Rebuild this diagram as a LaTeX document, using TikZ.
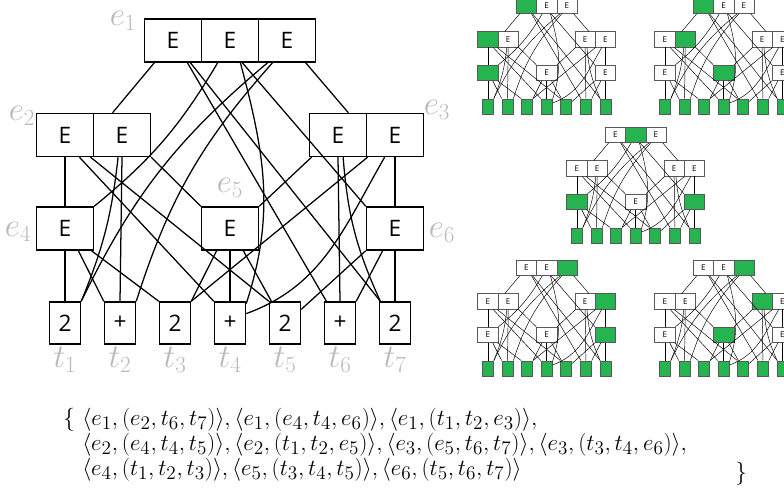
\documentclass[tikz,border=0pt]{standalone}
\usepackage{amsmath,amssymb}
\usepackage{fontspec}
\setsansfont{Open Sans}
\usepackage{tikz}

\definecolor{hlgreen}{RGB}{38,180,80}
\definecolor{lblgray}{RGB}{185,185,185}

\tikzset{
  port/.style={draw, inner sep=0pt, line width=\gbw,
    minimum width=42.75pt*\gs, minimum height=32.25pt*\gs,
    font=\sffamily\fontsize{\gfs}{\gfs}\selectfont},
  leaf/.style={port, minimum width=23.25pt*\gs, minimum height=31.5pt*\gs},
  wire/.style={line width=\glw},
  picked/.style={fill=hlgreen, text=hlgreen},
  sel-e1a/.style={}, sel-e1b/.style={}, sel-e1c/.style={},
  sel-e2a/.style={}, sel-e2b/.style={}, sel-e3a/.style={}, sel-e3b/.style={},
  sel-e4/.style={}, sel-e5/.style={}, sel-e6/.style={}, sel-t/.style={},
  lbl/.style={text=lblgray, inner sep=0pt, font=\fontsize{24}{24}\selectfont},
  settext/.style={inner sep=0pt, anchor=base west, font=\fontsize{19}{19}\selectfont},
}

% #1 name prefix, #2 scale, #3 box line width, #4 wire line width
\newcommand\hypergraph[4]{%
  \pgfmathsetmacro\gs{#2}%
  \pgfmathsetmacro\gfs{17*#2}%
  \def\gbw{#3}\def\glw{#4}%
  % E boxes
  \node[port, sel-e1a] (#1e1a) at (173,-40.5) {E};
  \node[port, sel-e1b] (#1e1b) at (230,-40.5) {E};
  \node[port, sel-e1c] (#1e1c) at (287,-40.5) {E};
  \node[port, sel-e2a] (#1e2a) at (65,-135) {E};
  \node[port, sel-e2b] (#1e2b) at (122,-135) {E};
  \node[port, sel-e3a] (#1e3a) at (338,-135) {E};
  \node[port, sel-e3b] (#1e3b) at (395,-135) {E};
  \node[port, sel-e4] (#1e4) at (65,-228.5) {E};
  \node[port, sel-e5] (#1e5) at (230,-228.5) {E};
  \node[port, sel-e6] (#1e6) at (395,-228.5) {E};
  % terminals
  \node[leaf, sel-t] (#1t1) at (65,-323) {2};
  \node[leaf, sel-t] (#1t2) at (120,-323) {+};
  \node[leaf, sel-t] (#1t3) at (175,-323) {2};
  \node[leaf, sel-t] (#1t4) at (230,-323) {+};
  \node[leaf, sel-t] (#1t5) at (285,-323) {2};
  \node[leaf, sel-t] (#1t6) at (340,-323) {+};
  \node[leaf, sel-t] (#1t7) at (395,-323) {2};
  % from e1
  \draw[wire] (#1e1a.-130) -- (#1e2b.113);
  \draw[wire] (#1e1a.-57) -- (#1t6.122);
  \draw[wire] (#1e1a.-52) -- (#1t7.124);
  \draw[wire] (#1e1b.-119) to[bend left=10] (#1e4.north east);
  \draw[wire] (#1e1b.-65) to[out=-75,in=72] (#1t4.50);
  \draw[wire] (#1e1b.-61) -- (#1e6.north west);
  \draw[wire] (#1e1c.-131) to[bend right=12] (#1t1.north east);
  \draw[wire] (#1e1c.-123) to[bend right=12] (#1t2.north east);
  \draw[wire] (#1e1c.-50) -- (#1e3a.65);
  % from e2
  \draw[wire] (#1e2a.south) -- (#1e4.north);
  \draw[wire] (#1e2a.-57) -- (#1t4.north west);
  \draw[wire] (#1e2a.-41) -- (#1t5.north west);
  \draw[wire] (#1e2b.-100) to[bend left=8] (#1t1.north east);
  \draw[wire] (#1e2b.south) -- (#1t2.north);
  \draw[wire] (#1e2b.south east) -- (#1e5.north west);
  % from e3
  \draw[wire] (#1e3a.-140) -- (#1e5.north east);
  \draw[wire] (#1e3a.south) -- (#1t6.north);
  \draw[wire] (#1e3a.-77) to[bend right=10] (#1t7.124);
  \draw[wire] (#1e3b.-141) -- (#1t3.north east);
  \draw[wire] (#1e3b.-115) to[out=-120,in=20] (#1t4.30);
  \draw[wire] (#1e3b.south) -- (#1e6.north);
  % from e4, e5, e6
  \draw[wire] (#1e4.south) -- (#1t1.north);
  \draw[wire] (#1e4.-59) -- (#1t2.north west);
  \draw[wire] (#1e4.-40) -- (#1t3.north west);
  \draw[wire] (#1e5.-121) -- (#1t3.north east);
  \draw[wire] (#1e5.south) -- (#1t4.north);
  \draw[wire] (#1e5.-59) -- (#1t5.122);
  \draw[wire] (#1e6.south west) -- (#1t5.40);
  \draw[wire] (#1e6.-119) -- (#1t6.north east);
  \draw[wire] (#1e6.south) -- (#1t7.north);
}

\begin{document}
\begin{tikzpicture}[x=0.75pt,y=0.75pt]
\useasboundingbox (0,0) rectangle (784,-495);
\clip (0,0) rectangle (784,-495);

% main hypergraph
\hypergraph{m-}{1}{1.1pt}{0.95pt}

% Text Node
\node[lbl] (le1) at (123,-21) {$e_1$};
\node[lbl] (le2) at (22,-116) {$e_2$};
\node[lbl] (le3) at (437,-110) {$e_3$};
\node[lbl] (le4) at (18,-232) {$e_4$};
\node[lbl] (le5) at (230,-188) {$e_5$};
\node[lbl] (le6) at (442,-233) {$e_6$};
\foreach \i in {1,...,7}
  \node[lbl] (lt\i) at (10+55*\i,-360) {$t_{\i}$};

% derivation trees
\begin{scope}[shift={(464.8,8.6)}, scale=0.356, port/.append style={draw=black!65},
  sel-e1a/.style=picked, sel-e2a/.style=picked, sel-e4/.style=picked, sel-t/.style=picked]
\hypergraph{a-}{0.356}{0.5pt}{0.35pt}
\end{scope}
\begin{scope}[shift={(641.8,8.6)}, scale=0.356, port/.append style={draw=black!65},
  sel-e1a/.style=picked, sel-e2b/.style=picked, sel-e5/.style=picked, sel-t/.style=picked]
\hypergraph{b-}{0.356}{0.5pt}{0.35pt}
\end{scope}
\begin{scope}[shift={(553.8,-120.4)}, scale=0.356, port/.append style={draw=black!65},
  sel-e1b/.style=picked, sel-e4/.style=picked, sel-e6/.style=picked, sel-t/.style=picked]
\hypergraph{c-}{0.356}{0.5pt}{0.35pt}
\end{scope}
\begin{scope}[shift={(464.8,-253.4)}, scale=0.356, port/.append style={draw=black!65},
  sel-e1c/.style=picked, sel-e3b/.style=picked, sel-e6/.style=picked, sel-t/.style=picked]
\hypergraph{d-}{0.356}{0.5pt}{0.35pt}
\end{scope}
\begin{scope}[shift={(641.8,-253.4)}, scale=0.356, port/.append style={draw=black!65},
  sel-e1c/.style=picked, sel-e3a/.style=picked, sel-e5/.style=picked, sel-t/.style=picked]
\hypergraph{f-}{0.356}{0.5pt}{0.35pt}
\end{scope}

% Text Node
\node[settext] (tup1) at (63,-425)
  {$\{\ \langle e_1,(e_2,t_6,t_7)\rangle, \langle e_1,(e_4,t_4,e_6)\rangle, \langle e_1,(t_1,t_2,e_3)\rangle,$};
\node[settext] (tup2) at (82,-450)
  {$\langle e_2,(e_4,t_4,t_5)\rangle, \langle e_2,(t_1,t_2,e_5)\rangle, \langle e_3,(e_5,t_6,t_7)\rangle, \langle e_3,(t_3,t_4,e_6)\rangle,$};
\node[settext] (tup3) at (82,-475)
  {$\langle e_4,(t_1,t_2,t_3)\rangle, \langle e_5,(t_3,t_4,t_5)\rangle, \langle e_6,(t_5,t_6,t_7)\rangle$};
\node[settext] (close) at (735,-479) {$\}$};
\end{tikzpicture}
\end{document}
